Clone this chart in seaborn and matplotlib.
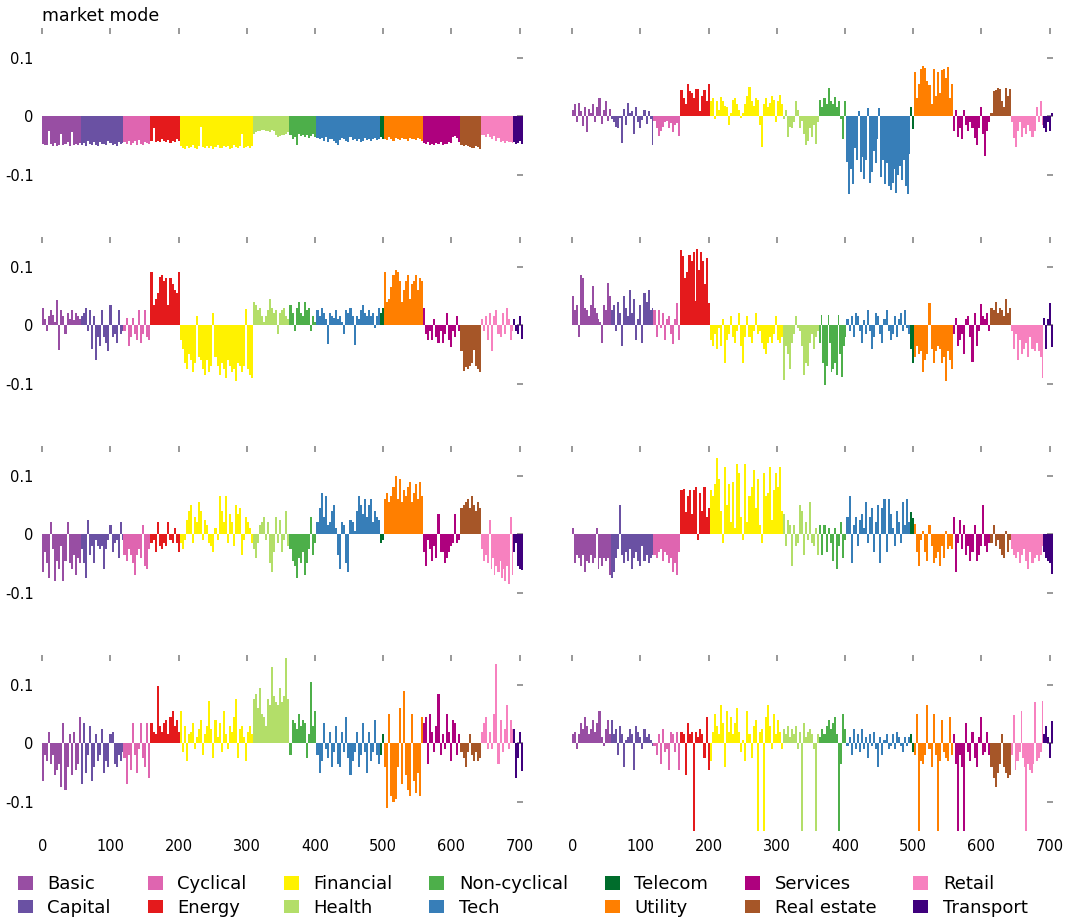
import pandas as pd
import seaborn as sns
import matplotlib
matplotlib.use("Agg")
import matplotlib.pyplot as plt
from matplotlib.patches import Patch

SECTORS = ['Basic', 'Capital', 'Cyclical', 'Energy', 'Financial', 'Health',
           'Non-cyclical', 'Tech', 'Telecom', 'Utility', 'Services',
           'Real estate', 'Retail', 'Transport']
SECTOR_SIZES = [57, 62, 40, 43, 107, 53, 40, 94, 6, 57, 54, 31, 47, 15]
COLORS = ['#984ea3', '#6a51a3', '#df65b0', '#e41a1c', '#fff200', '#b3de69',
          '#4daf4a', '#377eb8', '#006d2c', '#ff7f00', '#ae017e', '#a65628',
          '#f781bf', '#3f007d']
TITLES = ['market mode', '', '', '', '', '', '', '']

# bar heights, in units of 0.01, one list per sector;
# each reading stands for a few neighbouring stocks of that sector
MODE_1 = [
    [-4.7, -4.9, -5.0, -2.5, -4.8, -5.1, -4.6, -5.2, -4.9, -3.0, -5.0, -4.8, -4.5, -5.1, -2.8, -4.9, -4.7, -5.0, -4.6],
    [-4.9, -4.6, -5.1, -4.2, -4.8, -5.0, -4.4, -4.9, -5.2, -4.5, -4.7, -4.8, -5.0, -4.3, -4.6, -4.9, -4.7, -5.1, -4.5, -4.8, -4.6],
    [-4.5, -4.8, -4.2, -5.0, -4.6, -4.3, -4.9, -4.1, -4.7, -5.0, -4.4, -4.6, -4.8],
    [-4.3, -2.0, -4.4, -4.2, -4.5, -4.0, -4.3, -4.4, -4.1, -4.6, -4.2, -4.5, -4.0, -4.3],
    [-5.2, -5.4, -5.6, -5.1, -5.5, -5.3, -5.0, -5.4, -5.6, -5.2, -1.8, -5.3, -5.5, -5.1, -5.4, -5.2, -5.6, -5.3,
     -5.0, -5.5, -5.4, -5.1, -5.3, -5.2, -5.6, -5.4, -5.0, -5.3, -5.5, -5.2, -3.0, -5.4, -5.3, -5.1, -5.5, -5.2],
    [-3.0, -2.8, -2.6, -2.5, -2.3, -2.4, -2.6, -2.5, -2.7, -2.4, -2.6, -3.3, -3.5, -3.4, -3.2, -3.3, -3.0, -2.8],
    [-3.2, -4.0, -3.5, -5.0, -3.0, -3.4, -3.2, -3.6, -3.3, -3.8, -3.4, -3.0, -3.6],
    [-3.7, -4.0, -3.8, -4.2, -3.6, -4.4, -4.0, -3.9, -4.3, -4.6, -5.0, -4.1, -3.8, -4.0, -4.2, -4.5, -3.6, -4.1,
     -3.9, -4.3, -4.0, -4.4, -4.2, -3.8, -4.1, -3.9, -4.2, -4.0, -3.7, -4.1, -3.9],
    [-3.6, -4.0],
    [-3.9, -4.1, -3.6, -4.0, -4.2, -3.8, -4.0, -4.1, -3.7, -4.0, -3.9, -4.2, -3.8, -4.0, -3.9, -4.1, -3.8, -4.0, -4.3],
    [-4.6, -4.8, -4.5, -4.9, -4.7, -5.0, -4.6, -4.8, -4.5, -4.9, -4.7, -4.8, -4.4, -4.6, -3.5, -3.4, -3.8, -4.5],
    [-5.0, -5.2, -5.0, -5.1, -5.3, -5.4, -5.5, -5.2, -5.3, -5.6],
    [-3.3, -3.2, -3.5, -3.0, -3.6, -4.0, -3.4, -4.2, -3.8, -4.5, -4.3, -4.6, -4.2, -4.5, -4.4, -4.6],
    [-4.5, -4.7, -4.6, -4.3, -4.8],
]
MODE_2 = [
    [1.0, 2.0, -1.0, 2.3, 0.8, -1.7, 1.5, -2.8, 1.2, 0.5, 2.0, -1.0, 1.6, 3.0, -1.4, 1.0, 2.5, -0.8, 1.2],
    [-0.5, -1.0, -1.8, -2.0, -0.4, -4.6, 1.2, -1.5, 2.2, 0.5, 0.8, -3.0, 1.5, -1.0, -2.0, -0.6, 1.0, -1.3, 0.8, -0.5, -5.0],
    [-0.8, -2.0, -3.4, -2.5, -1.8, -1.0, -0.8, -2.0, -1.2, -2.8, -1.5, -1.2, -3.4],
    [4.5, 3.0, 2.0, 5.5, 4.3, 4.0, 3.0, 4.6, 4.7, 0.8, 3.5, 4.5, 2.5, 5.4],
    [2.5, 3.0, -0.5, 2.5, 1.0, 3.2, 2.5, 1.8, 1.5, -1.5, 0.5, 2.8, 3.0, 2.0, 1.0, -0.4, 0.5, 2.0,
     3.5, 4.9, 2.5, 1.8, 3.0, 2.8, -1.5, -5.3, 2.0, 3.0, 1.5, 2.3, 3.5, 2.8, -1.0, 2.5, 3.6, 2.0],
    [-0.5, 1.0, -3.5, -1.8, -2.0, -1.0, 2.5, 1.0, -2.0, -0.8, -3.0, -5.0, -4.3, -2.0, -3.5, -1.5, -4.8, -1.0],
    [2.8, 1.5, 3.0, 2.0, 4.8, 2.5, 2.0, 3.2, 1.5, 2.5, -0.5, -4.0, 2.5],
    [-7.8, -13.4, -9.0, -11.6, -5.5, -7.5, 0.8, -9.5, -7.0, -10.8, -7.5, 1.3, -11.5, -9.5, -6.0, -8.0, -4.0, 1.3,
     -10.5, -7.5, -11.6, -8.0, -12.0, -12.6, -11.5, -9.0, -13.2, -10.0, -8.5, -11.0, -7.5, -12.0, -13.4, -6.5],
    [1.5, -2.2],
    [7.5, 3.0, 5.5, 8.0, 8.5, 8.2, 6.0, 5.3, 2.0, 8.0, 3.5, 7.5, 4.0, 7.8, 8.0, 6.5, 8.3, 3.0, 5.5],
    [-2.5, 1.0, -3.5, -2.0, -4.0, 1.0, -1.5, -2.5, -1.0, -2.0, -3.8, -5.0, -2.0, 1.5, -3.0, -6.8, -2.5, -1.0],
    [0.5, 4.2, 4.5, 4.8, 4.6, 2.5, 1.5, 4.8, 3.5, 4.7],
    [-1.0, -3.8, -5.3, -2.5, -1.0, -3.6, -2.0, -3.0, -1.5, -2.5, -3.5, -2.5, 1.5, -1.0, 2.5, -1.5],
    [-2.0, -2.8, -1.0, -2.5, 0.5],
]
MODE_3 = [
    [3.0, 1.0, -1.0, 1.5, 2.5, 1.8, 0.5, 4.3, -4.3, 2.5, 1.5, -1.5, 2.0, 1.0, 2.5, 0.8, 2.0, 1.5, 1.0],
    [1.5, 2.0, 3.0, -1.0, 2.5, -4.0, 1.5, -5.9, -2.0, -3.5, 2.5, -2.0, -3.0, -4.5, 3.5, -2.0, -1.5, -3.0, 2.5, -1.5, -1.0],
    [-1.0, 1.2, -3.5, -2.0, 1.2, -1.5, -2.5, 2.5, -3.0, -1.5, 2.5, -2.0, -2.5],
    [9.0, 3.5, 4.5, 5.5, 8.2, 8.5, 7.5, 8.0, 3.5, 8.0, 7.0, 6.0, 5.5, 9.0],
    [-2.5, -4.0, -6.5, -7.5, -5.0, -6.0, -8.0, -6.5, 1.5, -5.5, -6.0, -7.5, -8.5, -6.0, -8.0, -7.0, 2.0, -5.5,
     -7.0, -8.5, -6.5, -7.5, -9.0, -6.0, -7.0, -8.0, -7.5, -9.5, -6.5, -7.0, -8.0, -7.0, 2.8, -7.5, -8.5, -9.0],
    [4.0, 3.5, 2.5, 3.0, 1.5, 0.5, 1.5, 2.5, 4.5, 3.0, 2.0, 2.5, -1.5, 2.0, 2.5, 3.0, 1.5, 1.0],
    [3.5, 2.0, -1.0, 3.0, 4.0, 2.0, 1.5, 4.0, 2.5, 3.0, -1.0, 1.5, 0.5],
    [2.5, 1.5, 3.0, 2.0, 1.0, -3.3, 2.0, 1.5, 1.2, 2.5, 1.0, 1.5, 0.5, -1.5, 2.5, 2.0, 3.0, 1.5,
     -3.4, 1.5, 1.0, 2.5, 3.5, 2.0, 1.5, 2.5, 1.5, 2.0, -0.5, 1.5, 3.0],
    [2.0, 3.0],
    [9.0, 4.0, 4.5, 6.5, 8.5, 9.5, 9.0, 7.5, 4.0, 6.0, 7.5, 8.5, 4.5, 7.0, 7.5, 8.5, 6.0, 8.0, 7.5],
    [3.0, -1.5, -2.5, -1.0, -2.5, 1.0, -2.0, -3.0, -1.0, -3.0, -1.5, 2.0, -2.5, -3.8, -1.0, -2.0, 1.5, -1.0],
    [-4.5, -7.8, -7.2, -7.5, -7.0, -6.5, -4.2, -7.0, -7.5, -8.0],
    [1.0, -1.0, 1.5, -2.5, 2.0, -4.5, 1.5, 2.5, -1.5, -2.0, 2.0, -1.5, 3.0, 1.0, -2.5, -1.0],
    [1.0, -1.0, -1.5, 1.5, -2.3],
]
MODE_4 = [
    [5.0, 2.5, 3.5, -2.0, 8.5, 8.0, 3.0, 2.5, 1.5, 3.5, 6.7, 3.0, 2.0, 1.0, 0.5, -3.0, 3.5, 2.5, 7.2, 5.0],
    [2.5, 3.5, -1.0, 4.0, 2.0, -3.5, 5.0, 3.0, 1.5, 6.0, 2.0, 4.5, -2.5, 1.0, 3.5, -3.0, 5.5, 4.0, 6.0, 2.5, 3.0],
    [2.5, -2.0, 2.5, -0.5, 2.0, -2.5, 1.0, 1.5, -1.5, -3.2, 1.0, 3.8, -2.5],
    [12.8, 11.8, 8.0, 9.0, 12.0, 11.0, 12.5, 4.2, 13.0, 9.5, 12.5, 11.0, 7.0, 11.5, 3.7],
    [-2.5, -3.5, -1.5, -4.0, -0.5, -3.5, 1.0, -6.5, -2.5, -1.5, 1.5, -2.0, -3.0, -1.0, 2.0, -3.5, -6.5, -2.0,
     1.5, -2.0, -3.0, -1.0, 2.0, -1.5, -1.0, -3.0, -4.0, -5.0, -3.0, -2.0, -3.0, -1.5, 1.5, -2.5, -3.0, -2.0],
    [-9.3, -3.5, -5.0, -7.5, -3.0, -1.5, 1.5, -0.5, -1.0, -3.5, -8.5, -6.5, -7.0, -3.0, -1.5, -4.0, -2.0, -1.0],
    [-3.0, 1.8, -6.5, -10.3, -7.0, 1.7, -3.0, -8.0, -7.5, -6.5, -8.5, 1.7, -5.0, -8.8, -3.5, -2.0],
    [1.0, -1.0, 1.5, -2.0, 2.0, 1.5, -1.0, -3.0, 0.8, -1.5, 2.5, -1.0, -4.0, -2.0, 2.0, 1.5, -1.5, -3.0,
     1.0, 2.5, -1.0, -2.5, -1.5, 1.5, -2.0, 1.0, 2.0, -1.0, 2.5, -0.5, -1.5],
    [-4.0, -6.5],
    [-5.5, -3.5, -5.0, -4.5, -8.0, -6.0, -5.0, 3.8, -4.0, -6.5, -4.5, -3.5, -4.0, -6.5, -5.5, -9.5, -4.5, -6.0, -7.5],
    [-1.5, 1.2, -3.5, -2.5, -1.5, -5.0, 1.0, 1.5, -2.0, -6.3, 2.0, -3.5, -1.0, 3.6, 1.5, 1.0, 2.0, -1.0],
    [3.0, 2.5, 4.0, 2.0, 3.0, 2.5, 1.5, 4.5, 2.0, 3.0],
    [-1.0, -4.0, -1.5, -6.0, -2.5, -5.0, -4.0, -3.0, -5.5, -2.0, -4.0, -4.5, -3.0, -4.5, -5.5, -9.0],
    [1.2, -4.0, 1.0, 3.8, -3.8],
]
MODE_5 = [
    [-6.5, -3.0, -5.0, -7.5, 2.0, -2.5, -8.0, -4.5, -6.0, -2.0, -8.0, -4.5, 2.0, -5.0, -6.0, -3.5, -7.0, -4.0, -5.0],
    [-2.5, -5.0, -7.5, 2.5, -3.5, -2.0, -5.0, -1.0, -2.0, -2.5, -2.0, -6.0, -2.5, -1.0, 1.5, -3.0, -1.5, -1.0, -4.0, 2.0, -1.0],
    [-3.5, -4.5, -2.5, -3.5, -5.0, -7.0, -3.5, -2.5, -4.0, 1.5, -5.5, -6.0, -2.5],
    [-1.5, -1.0, -3.0, 2.0, -2.0, -2.5, -1.5, -2.0, 2.0, -1.0, -1.5, 1.0, -1.5, -3.0],
    [-1.5, -2.5, -1.0, 2.5, 4.0, 5.0, -1.5, 3.0, 2.0, 5.5, 4.0, -1.0, 2.5, 1.5, -1.5, -2.0, -3.0, 1.0,
     -1.0, 6.5, 4.0, 2.0, 6.5, -1.5, 3.5, 2.0, -2.0, 5.0, 3.5, 4.5, -3.5, -1.0, 3.0, 2.0, 1.0, -1.5],
    [-2.5, -4.0, -1.5, 1.5, 2.0, 3.0, -1.0, 2.0, -5.0, -6.5, -3.0, 3.0, -1.5, 2.5, -3.0, -1.0, 4.0, -2.0],
    [-2.5, -4.5, -5.5, -7.5, -4.0, -5.0, -3.0, -7.0, -5.0, -2.5, 3.0, -3.5, -1.5],
    [2.0, 4.5, 7.0, 3.0, 6.5, 1.5, 2.0, 4.0, 5.0, 1.0, -3.5, -6.0, 2.0, 1.5, -5.0, -6.5, 2.5, 2.0,
     0.5, 4.0, 6.5, 5.0, 3.5, 6.0, 3.0, 5.0, 6.0, 2.0, 4.0, 3.0, 2.5],
    [-1.5, -1.0],
    [6.0, 7.0, 5.5, 6.5, 8.0, 10.0, 6.0, 9.5, 5.5, 7.5, 6.5, 8.0, 9.0, 5.5, 7.0, 8.5, 6.0, 9.0, 6.5],
    [-3.0, -5.5, -1.0, -2.5, -4.5, -2.0, -4.0, 3.5, -3.0, -3.0, -5.0, -4.0, -3.0, -2.0, -1.5, 3.5, -1.5, -1.0],
    [4.5, 5.0, 5.5, 6.0, 4.5, 6.5, 5.0, 4.0, 5.5, 4.5],
    [-2.5, -4.5, -3.5, -5.0, 2.5, -6.0, -4.0, -7.0, -5.5, -6.5, -4.5, -7.5, -6.0, -8.0, -5.5, -8.5, 3.0, -7.0],
    [-3.0, -1.5, -5.5, -6.0, -6.2],
]
MODE_6 = [
    [1.0, -5.0, -3.5, -4.0, -5.5, -3.5, -6.5, -4.5, -5.0, -3.5, -5.0, -4.0, 1.0, -6.0, -4.0, -5.5, -4.0, -4.5, -4.0, -7.0],
    [-7.5, -6.5, -4.0, -2.5, 5.0, -3.5, -5.0, -3.0, -4.5, -2.5, -6.0, -4.0, -3.0, -4.5, -5.5, -2.0, -4.5, -3.5, -5.0, -4.0, -3.5],
    [-3.5, -4.0, -3.0, -2.5, -4.5, -3.0, -3.5, -5.0, -4.0, -6.5, -5.0, -7.0, -3.0],
    [7.5, 7.8, 3.8, 6.5, 7.5, 3.5, 7.5, 8.0, -1.0, 7.0, 4.0, 8.0, 3.0, 4.5],
    [7.5, 6.5, 8.5, 13.0, 9.5, 4.0, -1.5, 11.5, 5.0, 8.5, 2.0, 9.0, 1.0, 12.0, 10.5, 3.0, -1.0, 12.0,
     2.0, 6.5, 8.0, 11.0, 4.5, 9.5, 1.5, -1.5, 10.5, 6.5, 7.0, 11.5, 2.5, 7.5, 10.5, 8.0, 11.5, 4.0],
    [3.5, -2.0, 2.5, 1.5, -5.5, 1.5, -2.0, -1.5, 5.0, 4.0, -3.5, 2.0, -1.0, 5.5, -1.5, -2.0, 1.0, -3.5],
    [1.5, -3.5, 1.5, -3.0, 1.0, -1.5, -4.5, 1.0, -6.0, -2.0, 2.0, -4.0, -1.0],
    [3.0, 6.5, -5.0, 1.5, 3.0, -2.0, 2.5, 3.5, 1.0, 5.5, -1.5, 3.0, 4.5, -3.0, 2.0, 5.0, -5.0, 4.5,
     6.0, -3.0, 6.0, 3.5, 1.0, -2.0, 4.0, 2.0, -1.5, 5.5, 1.5, 6.0, 2.0],
    [3.8, 2.8],
    [1.8, -3.0, -5.5, -1.0, 0.5, -3.0, -4.5, 1.5, -2.0, -5.0, -4.0, -3.0, -5.5, -2.0, -4.0, 0.5, -2.5, -2.0, -2.5],
    [3.0, -6.5, -1.5, 2.5, -2.5, 1.5, -3.5, -2.0, -4.5, -3.0, 1.5, -4.5, -3.5, -2.0, 5.0, -2.0, -3.0, -1.5],
    [-1.5, 1.5, -2.0, -1.0, -2.5, -3.5, -4.0, 0.5, -3.0, -1.0],
    [-2.5, -3.5, -4.0, -3.0, -5.0, -3.5, -2.5, -4.5, -6.0, -3.0, -5.0, -4.0, -3.5, -4.5, -3.5, -2.0],
    [-3.0, -4.0, -4.5, -5.0, -6.8],
]
MODE_7 = [
    [-6.5, -2.0, -3.0, 2.0, -3.5, -2.0, -5.5, -4.5, -3.5, -7.5, 3.5, -8.0, -4.0, 1.5, -5.5, 2.0, -4.5, -3.5, 4.5],
    [-7.0, 3.5, -5.0, -2.0, 3.0, -6.5, -4.0, 1.5, -3.0, -2.0, 2.5, -5.0, -3.0, -4.0, 1.5, 2.0, -3.5, -4.0, -2.0, -3.0, -1.5],
    [-2.5, -7.0, -2.0, -4.5, 3.5, -2.0, -5.0, -1.0, 3.5, -2.5, -4.0, 3.5, -6.0],
    [3.5, 2.0, 1.5, 9.8, 3.0, 2.0, 3.5, 4.0, 1.5, 4.5, 5.5, 3.0, 4.0, 2.0],
    [5.5, -1.5, 3.0, -3.0, 1.5, 2.0, 3.5, -1.0, 1.0, 2.5, 4.0, -2.0, 1.5, 3.0, 7.3, 2.5, -2.5, 4.0,
     1.0, 3.5, -1.5, 5.5, 1.5, -1.0, 3.0, 2.0, 4.5, 7.5, -2.5, 2.5, 3.0, 1.0, -3.0, 2.0, 3.0, 1.5],
    [7.5, 8.5, 6.0, 9.5, 5.0, 4.5, 3.0, 7.5, 6.5, 13.0, 8.0, 7.0, 6.5, 9.5, 7.0, 8.0, 14.5, 7.5],
    [-2.0, 4.0, 3.5, 2.5, 5.0, 3.0, 4.0, 3.5, -2.5, 1.5, 10.5, 3.0, 5.5],
    [-2.0, -5.0, -3.0, 3.5, -1.0, -2.5, 2.0, -4.0, -1.5, 3.0, -3.5, -4.0, 2.0, -1.5, 4.5, -2.5, -5.5, -3.0,
     -1.5, 2.0, -4.0, -2.0, 3.5, -1.5, -5.0, 2.0, -3.0, -1.5, 4.0, -2.0, -3.5],
    [-2.0, 1.5],
    [-4.0, -11.0, 5.0, -9.0, -10.0, -9.5, -4.0, 6.0, -7.0, 9.0, -5.5, -8.0, -9.0, 5.0, -6.5, -8.5, -5.0, -9.0, 4.5],
    [3.5, 4.5, -3.5, 5.0, 2.0, -1.5, 3.0, 8.5, -2.0, 1.5, -1.0, 5.0, 2.0, -3.0, 4.0, 3.5, -2.0, 1.5],
    [-1.5, -2.5, -4.0, -1.5, 1.5, -2.0, -3.0, -1.5, -3.0, -2.5],
    [2.0, 3.5, 4.5, -1.0, 2.0, -1.0, 5.0, 13.5, -3.5, 4.0, -1.5, 2.5, 6.5, -1.0, 4.0, 2.5],
    [2.5, -6.0, -2.5, 2.0, -4.8],
]
MODE_8 = [
    [1.5, 2.0, -1.0, 1.5, 3.5, 2.5, 4.5, 3.0, 1.5, 2.5, 4.0, 2.0, 3.5, 5.5, 1.0, -0.5, 2.5, 4.0, 1.5],
    [4.0, 1.5, 2.5, -2.0, 3.0, 1.5, -4.0, 0.5, 1.0, 2.5, 1.5, -4.5, 3.0, 2.0, 1.0, -1.0, 2.5, 1.0, 1.5, 0.5, -0.5],
    [-0.5, -2.0, 1.5, -3.5, 2.5, -1.5, -1.0, -4.5, 2.0, 1.5, -1.5, 2.0, -4.5],
    [2.0, 1.5, -5.5, 3.5, 1.5, 2.0, -15.0, 2.0, 1.0, 2.5, 1.5, -2.5, 4.5, -4.5],
    [-3.0, 2.0, 5.0, 3.0, 1.5, 6.5, 3.5, -4.0, 5.5, 2.0, 4.5, 1.5, 3.5, 6.0, 2.0, -1.5, 0.5, -3.0,
     5.5, 1.5, -2.5, 3.0, 4.0, -15.0, 2.0, 2.5, -15.0, 4.5, 6.5, 3.0, -1.0, 5.0, 1.5, 4.0, 2.0, -1.0],
    [2.5, 1.5, 3.0, 1.0, 2.5, 1.5, 3.0, -1.0, 2.0, -15.0, 3.5, 1.0, 2.0, 2.5, 1.5, -1.0, -15.0, 1.5],
    [1.0, 2.5, 1.5, 3.0, 4.0, 2.5, 3.5, 4.5, 1.5, -15.0, -3.5, 5.0, 2.5],
    [-0.5, 1.0, -2.0, 2.5, -1.0, 1.5, -1.5, 2.5, -1.0, 1.0, -2.5, 1.5, -0.5, 2.0, -1.0, -4.0, 1.0, -2.0,
     0.5, 1.5, -1.0, -0.5, 1.5, -1.0, 2.0, 1.0, -0.5, -1.5, 1.0, -0.5, 1.0],
    [1.5, -1.5],
    [-2.0, 5.0, -15.0, -3.0, -3.5, -2.0, 6.5, -1.0, -4.0, 5.0, -2.0, -15.0, -3.0, 4.0, -1.5, -2.5, -3.0, 4.5, -2.0],
    [1.5, -3.5, -15.0, -2.0, -4.0, -15.0, 3.5, -1.5, -3.0, 2.0, -2.5, -4.0, 1.0, 4.5, -2.0, -1.5, 2.0, -2.0],
    [-4.0, -6.0, -7.5, -5.0, -3.5, 1.5, -4.0, -5.0, -6.0, -5.5],
    [-2.0, 4.8, -4.5, -3.0, -1.5, 5.5, -2.5, -4.0, -15.0, -3.5, -4.5, -5.0, -3.5, 7.0, -3.0, -2.5, -1.5, 7.2],
    [1.5, 3.0, 1.0, -2.5, 3.8],
]
MODES = [MODE_1, MODE_2, MODE_3, MODE_4, MODE_5, MODE_6, MODE_7, MODE_8]


def expand(mode):
    rows = []
    stock = 0
    for sector, size, readings in zip(SECTORS, SECTOR_SIZES, mode):
        for j in range(size):
            rows.append((stock, readings[j * len(readings) // size] / 100, sector))
            stock += 1
    return pd.DataFrame(rows, columns=['stock', 'value', 'sector'])


sns.set_style('white')
plt.rcParams['font.family'] = ['DejaVu Sans']
plt.rcParams['axes.unicode_minus'] = False
plt.rcParams['text.color'] = 'black'
plt.rcParams['xtick.labelcolor'] = 'black'
plt.rcParams['ytick.labelcolor'] = 'black'

fig, axes = plt.subplots(4, 2, figsize=(10.65, 9.24), dpi=100)
fig.subplots_adjust(left=0.0394, right=0.989, top=0.9694, bottom=0.1006,
                    wspace=0.1007, hspace=0.191)
palette = dict(zip(SECTORS, COLORS))
n_stocks = sum(SECTOR_SIZES)

for k, (ax, mode) in enumerate(zip(axes.flat, MODES)):
    df = expand(mode)
    sns.barplot(data=df, x='stock', y='value', hue='sector', hue_order=SECTORS,
                palette=palette, dodge=False, native_scale=True, width=1,
                saturation=1, linewidth=0, errorbar=None, legend=False,
                antialiased=False, ax=ax)
    ax.set_xlim(-0.5, n_stocks - 0.5)
    ax.set_ylim(-0.15, 0.15)
    ax.set_xticks(range(0, 701, 100))
    ax.set_yticks([-0.1, 0, 0.1])
    ax.set_xlabel('')
    ax.set_ylabel('')
    for s in ax.spines.values():
        s.set_visible(False)
    ax.tick_params(direction='in', length=4.5, width=1.2, color='#888888',
                   top=True, right=True, labelsize=10.5, pad=6)
    if k % 2 == 0:
        ax.set_yticklabels(['-0.1', '0', '0.1'])
    else:
        ax.tick_params(labelleft=False)
    if k < 6:
        ax.tick_params(labelbottom=False)
    else:
        ax.set_xticklabels([str(t) for t in range(0, 701, 100)])

fig.text(42 / 1065, 1 - 16 / 924, TITLES[0], fontsize=12.5, ha='left', va='center')

handles = [Patch(facecolor=c, edgecolor='none', label=s) for s, c in zip(SECTORS, COLORS)]
fig.legend(handles=handles, loc='center left', bbox_to_anchor=(18 / 1065, 1 - 896 / 924),
           ncol=7, frameon=False, fontsize=13, handlelength=0.83, handleheight=0.77,
           handletextpad=0.8, columnspacing=2.05, labelspacing=0.3,
           borderaxespad=0, borderpad=0)

fig.savefig('out.png', dpi=100)
